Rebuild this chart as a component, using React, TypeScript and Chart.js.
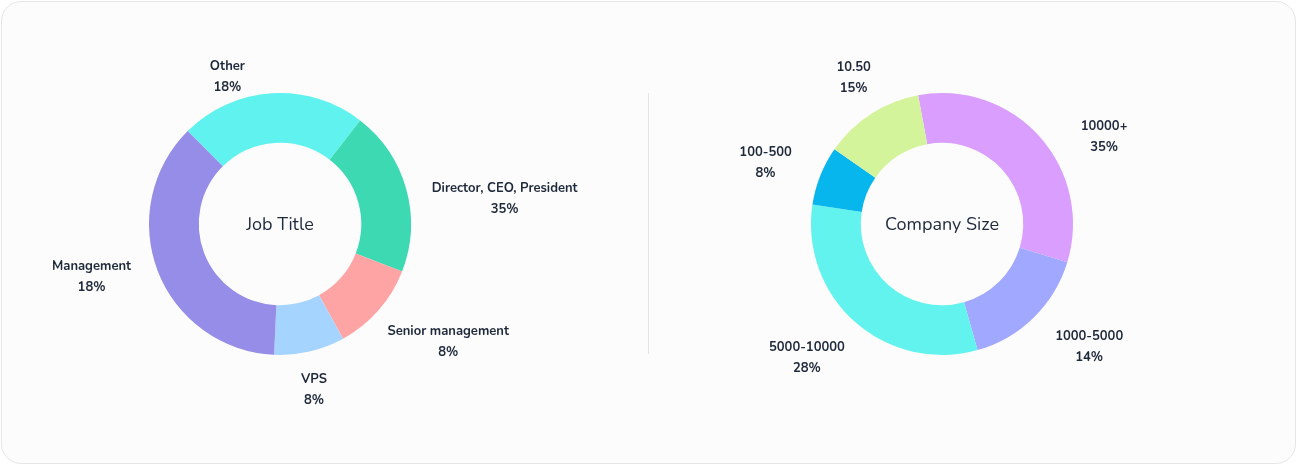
import React, { useEffect, useRef } from "react";
import { Chart, registerables } from "chart.js";

Chart.register(...registerables);

// ---- Data ----
const jobTitleLabels = ["Other", "Director, CEO, President", "Senior management", "VPS", "Management"];
const jobTitleValues = [22.9, 20.4, 11.1, 8.7, 36.8];
const jobTitlePercents = ["18%", "35%", "8%", "8%", "18%"];

const companySizeLabels = ["10000+", "1000-5000", "5000-10000", "100-500", "10.50"];
const companySizeValues = [32.6, 15.9, 31.7, 7.3, 12.4];
const companySizePercents = ["35%", "14%", "28%", "8%", "15%"];

// ---- Styles ----
const jobTitleColors = ["#60F2EF", "#3DD9B3", "#FFA4A4", "#A4D4FF", "#968DE8"];
const companySizeColors = ["#D99EFE", "#A0A8FF", "#62F3EF", "#06B6EC", "#D4F49B"];
const TEXT = "#1E293B";
const FONT_FAMILY = "Nunito, Lato, 'Noto Sans', sans-serif";

const arcLabelsPlugin = {
  id: "arcLabels",
  afterDraw(chart: any, _args: any, opts: any) {
    const meta = chart.getDatasetMeta(0);
    const ctx = chart.ctx as CanvasRenderingContext2D;
    const labels: string[] = chart.data.labels;
    ctx.save();
    ctx.font = opts.font;
    ctx.fillStyle = opts.color;
    ctx.textAlign = "center";
    ctx.textBaseline = "middle";
    meta.data.forEach((arc: any, i: number) => {
      const { x, y, startAngle, endAngle, outerRadius } = arc.getProps(
        ["x", "y", "startAngle", "endAngle", "outerRadius"],
        true
      );
      const mid = (startAngle + endAngle) / 2;
      const R = outerRadius + opts.gap;
      const px = x + Math.cos(mid) * R;
      const py = y + Math.sin(mid) * R;
      const lines = [labels[i], opts.percents[i]];
      const w = Math.max(...lines.map((l: string) => ctx.measureText(l).width));
      const h = opts.lineHeight * lines.length;
      const [nx, ny] = (opts.nudge && opts.nudge[i]) || [0, 0];
      const cx = px + (Math.cos(mid) * w) / 2 + nx;
      const cy = py + (Math.sin(mid) * h) / 2 + ny + opts.dy;
      lines.forEach((l: string, k: number) => {
        ctx.fillText(l, cx, cy + (k - (lines.length - 1) / 2) * opts.lineHeight);
      });
    });
    ctx.restore();
  },
};

const centerTextPlugin = {
  id: "centerText",
  afterDraw(chart: any, _args: any, opts: any) {
    const arc = chart.getDatasetMeta(0).data[0];
    if (!arc) return;
    const ctx = chart.ctx as CanvasRenderingContext2D;
    ctx.save();
    ctx.font = opts.font;
    ctx.fillStyle = opts.color;
    ctx.textAlign = "center";
    ctx.textBaseline = "middle";
    ctx.fillText(opts.text, arc.x, arc.y + opts.dy);
    ctx.restore();
  },
};

type DonutProps = {
  labels: string[];
  values: number[];
  percents: string[];
  colors: string[];
  title: string;
  rotation: number;
  padding: { left: number; right: number; top: number; bottom: number };
  nudge: number[][];
  left: number;
};

function Donut(p: DonutProps) {
  const ref = useRef<HTMLCanvasElement | null>(null);
  useEffect(() => {
    if (!ref.current) return;
    const chart = new Chart(ref.current, {
      type: "doughnut",
      data: {
        labels: p.labels,
        datasets: [
          {
            data: p.values,
            backgroundColor: p.colors,
            borderWidth: 0,
            hoverOffset: 0,
          },
        ],
      },
      options: {
        responsive: false,
        animation: false,
        events: [],
        cutout: "62%",
        rotation: p.rotation,
        layout: { padding: p.padding },
        plugins: {
          legend: { display: false },
          tooltip: { enabled: false },
          arcLabels: {
            font: `700 13px ${FONT_FAMILY}`,
            color: TEXT,
            gap: 24,
            lineHeight: 21,
            dy: 1.8,
            percents: p.percents,
            nudge: p.nudge,
          },
          centerText: {
            text: p.title,
            font: `400 18px ${FONT_FAMILY}`,
            color: TEXT,
            dy: 2,
          },
        } as any,
      },
      plugins: [arcLabelsPlugin, centerTextPlugin],
    });
    return () => chart.destroy();
  }, []);
  return (
    <canvas
      ref={ref}
      width={648}
      height={465}
      style={{ position: "absolute", left: p.left, top: 0, width: 648, height: 465 }}
    />
  );
}

export default function App() {
  return (
    <div style={{ position: "absolute", left: 0, top: 0, width: 1297, height: 465, background: "#ffffff", overflow: "hidden" }}>
      <div
        style={{
          position: "absolute",
          left: 1,
          top: 1,
          width: 1295,
          height: 463,
          boxSizing: "border-box",
          border: "1px solid #E6E6E6",
          borderRadius: 20,
          background: "#FCFCFC",
        }}
      />
      <div style={{ position: "absolute", left: 648, top: 93, width: 1, height: 261, background: "#E5E5E5" }} />
      <Donut
        labels={jobTitleLabels}
        values={jobTitleValues}
        percents={jobTitlePercents}
        colors={jobTitleColors}
        title="Job Title"
        rotation={-44.8}
        padding={{ left: 149, right: 237, top: 93, bottom: 110 }}
        nudge={[[-42, 27], [5, 21], [6, 1], [-4, -7], [-7, -12]]}
        left={0}
      />
      <Donut
        labels={companySizeLabels}
        values={companySizeValues}
        percents={companySizePercents}
        colors={companySizeColors}
        title="Company Size"
        rotation={-10.5}
        padding={{ left: 162, right: 224, top: 93, bottom: 110 }}
        nudge={[[29, 29], [15, -4], [-7.5, 1], [-8, 3], [5, 0]]}
        left={649}
      />
    </div>
  );
}
